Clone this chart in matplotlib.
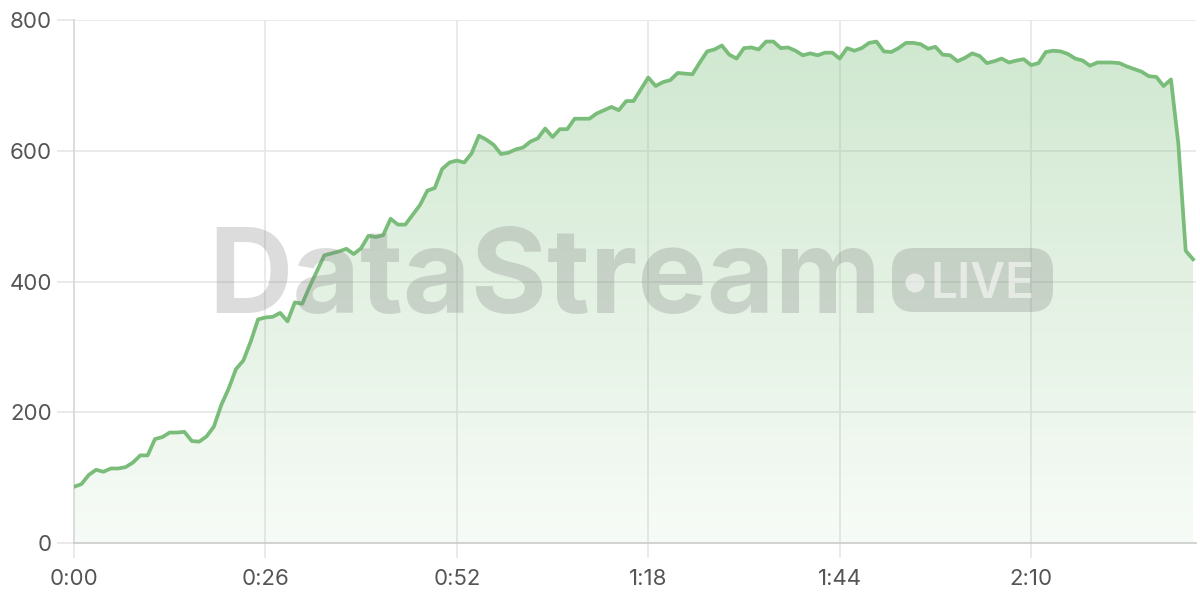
import numpy as np
import matplotlib.pyplot as plt
from matplotlib.patches import FancyBboxPatch, Circle, Polygon
from matplotlib.transforms import IdentityTransform
from matplotlib.ticker import FuncFormatter

plt.rcParams['font.family'] = ['Inter', 'DejaVu Sans']

# one sample per second, 0:00 .. 2:32
seconds = list(range(153))
values = [
    86, 90, 104, 112, 109, 114, 114, 116, 123, 134,
    134, 159, 162, 169, 169, 170, 156, 155, 163, 178,
    211, 236, 266, 279, 308, 342, 345, 346, 352, 339,
    368, 366, 392, 416, 440, 443, 446, 450, 442, 451,
    470, 468, 471, 496, 487, 487, 502, 517, 539, 543,
    572, 582, 585, 582, 596, 623, 617, 609, 595, 597,
    602, 605, 614, 619, 634, 621, 633, 633, 649, 649,
    649, 657, 662, 667, 662, 676, 676, 694, 712, 699,
    705, 708, 719, 718, 717, 735, 752, 755, 761, 747,
    741, 757, 758, 755, 767, 767, 757, 758, 753, 746,
    749, 746, 750, 750, 741, 757, 753, 757, 765, 767,
    752, 751, 757, 765, 765, 763, 756, 759, 747, 746,
    737, 742, 749, 745, 734, 737, 741, 735, 738, 740,
    731, 734, 751, 753, 752, 748, 741, 738, 730, 735,
    735, 735, 734, 729, 725, 721, 714, 713, 699, 709,
    611, 447, 434,
]
x_ticks = [0, 26, 52, 78, 104, 130]
y_ticks = [0, 200, 400, 600, 800]

line_color = '#7abd7a'
grid_color = '#e6e6e6'
text_color = '#555555'

fig = plt.figure(figsize=(12, 6), dpi=100)
ax = fig.add_axes([74 / 1200, 1 - 543 / 600, 1122 / 1200, 523 / 600])

x = np.array(seconds)
y = np.array(values)

# gradient fill under the line
grad = np.zeros((256, 1, 4))
grad[:, 0, :3] = [0.47, 0.74, 0.47]
grad[:, 0, 3] = np.linspace(0.36, 0.06, 256)
img = ax.imshow(grad, aspect='auto', extent=[0, x[-1], 0, 800],
                origin='upper', zorder=1)
verts = np.column_stack([np.r_[x[0], x, x[-1]], np.r_[0, y, 0]])
clip = Polygon(verts, closed=True, transform=ax.transData, facecolor='none', edgecolor='none')
ax.add_patch(clip)
img.set_clip_path(clip)

ax.plot(x, y, color=line_color, lw=2.7, zorder=3, solid_joinstyle='round')

ax.set_xlim(0, 152.4)
ax.set_ylim(0, 800)
ax.set_xticks(x_ticks)
ax.set_yticks(y_ticks)
ax.xaxis.set_major_formatter(FuncFormatter(lambda v, p: f"{int(v) // 60}:{int(v) % 60:02d}"))
ax.grid(True, color=grid_color, lw=1.2, zorder=0)
ax.set_axisbelow(True)
for s in ['top', 'right']:
    ax.spines[s].set_visible(False)
ax.spines['left'].set_color('#d8d8d8')
ax.spines['left'].set_linewidth(1.2)
ax.spines['bottom'].set_color('#cccccc')
ax.spines['bottom'].set_linewidth(1.2)
ax.tick_params(axis='both', colors=grid_color, width=1.2, labelcolor=text_color, labelsize=16)
ax.tick_params(axis='y', length=12, pad=4)
ax.tick_params(axis='x', length=11, pad=8)

# watermark (pixel coordinates, origin top-left)
def fx(px):
    return px / 1200

def fy(py):
    return 1 - py / 600

fig.text(fx(208), fy(313), 'DataStream', fontsize=84, fontweight='bold',
         color='#7a7a7a', alpha=0.26, ha='left', va='baseline', zorder=5)
badge = FancyBboxPatch((892 + 8, 600 - 312 + 8), 161 - 16, 64 - 16,
                       boxstyle='round,pad=8,rounding_size=22',
                       transform=IdentityTransform(), facecolor='#7a7a7a', alpha=0.26,
                       edgecolor='none', zorder=5)
fig.patches.append(badge)
fig.patches.append(Circle((915, 600 - 283), 9.5, transform=IdentityTransform(),
                          facecolor='white', alpha=0.55, edgecolor='none', zorder=6))
fig.text(fx(931), fy(298), 'LIVE', fontsize=34.5, fontweight='semibold', color='white',
         alpha=0.55, ha='left', va='baseline', zorder=6)

fig.savefig('out.png', dpi=100)
